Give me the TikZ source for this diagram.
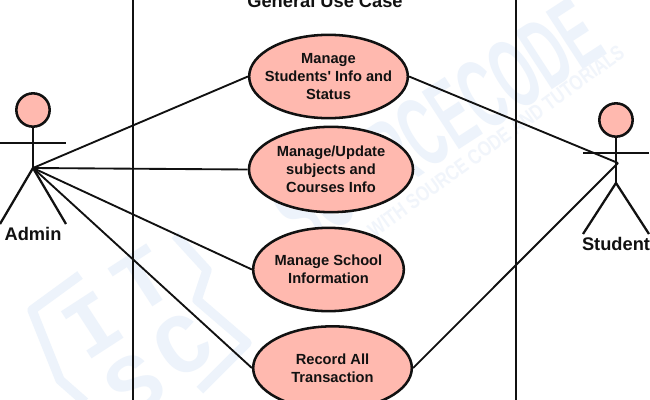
\documentclass[tikz,border=0pt]{standalone}
\usepackage{fontspec}
\setmainfont{Liberation Sans}
\newfontfamily\wmmono{Liberation Mono}
\definecolor{uc}{HTML}{FFB9AF}
\definecolor{ink}{HTML}{111111}
\definecolor{wm}{HTML}{EDF3FB}
\definecolor{wmsoft}{HTML}{F1F5FB}
\usetikzlibrary{shapes.geometric}
\tikzset{
  x=0.75pt,y=-0.75pt,
  usecase/.style={ellipse,draw=ink,fill=uc,line width=1.9pt,inner xsep=-22pt,inner ysep=-8pt,align=center,font=\fontsize{11}{13.5}\selectfont\bfseries,text=ink},
  stick/.style={draw=ink,line width=1.7pt},
  head/.style={circle,draw=ink,fill=uc,line width=1.9pt,minimum size=25pt,inner sep=0pt},
  assoc/.style={draw=ink,line width=1.4pt},
  boundary/.style={draw=ink,line width=1.9pt},
  label/.style={font=\fontsize{13.7}{15}\selectfont\bfseries,text=ink,inner sep=0pt},
  marktext/.style={text=wm,font=\bfseries,inner sep=0pt},
  markline/.style={draw=wm,line width=7pt,line join=round},
}
\begin{document}
\begin{tikzpicture}
\useasboundingbox (0,0) rectangle (650,400);
\clip (0,0) rectangle (650,400);
\fill[white] (0,0) rectangle (650,400);
% watermark
\node[marktext,rotate=33] (wm1) at (437,124) {\resizebox{274pt}{52pt}{SOURCECODE}};
\node[marktext,rotate=36,text=wmsoft] (wm2) at (496,141) {\resizebox{233pt}{11pt}{WITH SOURCE CODE AND TUTORIALS}};
\node[marktext,rotate=33,font=\wmmono\fontsize{64}{64}\selectfont\bfseries] (wm3) at (93,325) {I};
\node[marktext,rotate=33,font=\wmmono\fontsize{64}{64}\selectfont\bfseries] (wm4) at (143,280) {T};
\node[marktext,rotate=33,font=\wmmono\fontsize{64}{64}\selectfont\bfseries] (wm5) at (135,385) {S};
\node[marktext,rotate=33,font=\wmmono\fontsize{64}{64}\selectfont\bfseries] (wm6) at (183,345) {C};
\coordinate (mA) at (80,275); \coordinate (mB) at (32,310); \coordinate (mC) at (60,380); \coordinate (mD) at (85,402);
\draw[markline] (mA) -- (mB) -- (mC) -- (mD);
\coordinate (mE) at (175,235); \coordinate (mF) at (207,270); \coordinate (mG) at (197,300); \coordinate (mH) at (247,343); \coordinate (mI) at (200,390);
\draw[markline] (mE) -- (mF) -- (mG) -- (mH) -- (mI);
% boundaries
\coordinate (b1t) at (133,-2); \coordinate (b1b) at (133,402);
\coordinate (b2t) at (516,-2); \coordinate (b2b) at (516,402);
\draw[boundary] (b1t) -- (b1b);
\draw[boundary] (b2t) -- (b2b);
\node[label] (title) at (325,1) {General Use Case};
% use cases
\node[usecase,minimum width=119pt,minimum height=62.5pt] (e1) at (328.5,76.5) {Manage\\Students\textquotesingle\ Info and\\Status};
\node[usecase,minimum width=123pt,minimum height=64pt] (e2) at (331,169.5) {Manage/Update\\subjects and\\Courses Info};
\node[usecase,minimum width=113pt,minimum height=62.5pt] (e3) at (328.5,269.5) {Manage School\\Information};
\node[usecase,minimum width=119pt,minimum height=62.5pt] (e4) at (332.5,368) {Record All\\Transaction};
% admin
\coordinate (aNeck) at (33,127); \coordinate (aHip) at (33,168);
\coordinate (aArmL) at (-2,143); \coordinate (aArmR) at (66,143);
\coordinate (aLegL) at (0,224); \coordinate (aLegR) at (66,224);
\draw[stick] (aNeck) -- (aHip);
\draw[stick] (aArmL) -- (aArmR);
\draw[stick] (aLegL) -- (aHip) -- (aLegR);
\node[head] (aHead) at (33,110) {};
\node[label] (admin) at (33,234) {Admin};
% student
\coordinate (sNeck) at (616,137); \coordinate (sHip) at (616,183);
\coordinate (sArmL) at (583,153); \coordinate (sArmR) at (649,153);
\coordinate (sLegL) at (583,234); \coordinate (sLegR) at (649,234);
\coordinate (sHub) at (618,163);
\draw[stick] (sNeck) -- (sHip);
\draw[stick] (sArmL) -- (sArmR);
\draw[stick] (sLegL) -- (sHip) -- (sLegR);
\node[head] (sHead) at (616,120) {};
\node[label] (student) at (616,244) {Student};
% associations
\draw[assoc] (aHip) -- (e1.west);
\draw[assoc] (aHip) -- (e2.west);
\draw[assoc] (aHip) -- (e3.west);
\draw[assoc] (aHip) -- (e4.west);
\draw[assoc] (e1.east) -- (sHub);
\draw[assoc] (e4.east) -- (sHub);
\end{tikzpicture}
\end{document}
